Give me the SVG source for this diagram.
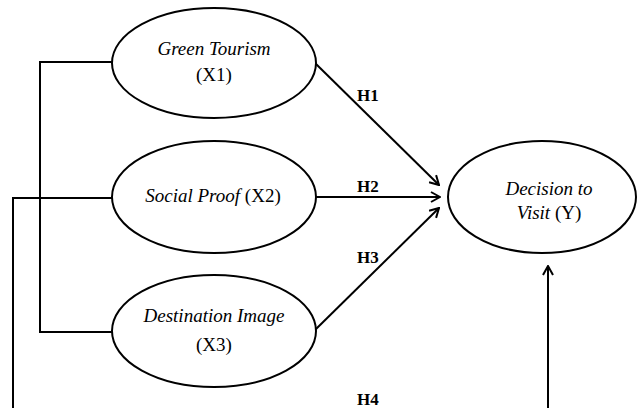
<svg xmlns="http://www.w3.org/2000/svg" width="637" height="408" viewBox="0 0 637 408">
<style>
.node ellipse{fill:#fff;stroke:#000;stroke-width:2}
.t{font-family:"Liberation Serif","Times New Roman",serif;font-size:19px;fill:#000;text-anchor:middle}
.i{font-style:italic}
.h{font-family:"Liberation Serif","Times New Roman",serif;font-size:17px;font-weight:bold;fill:#000}
#connectors path,#connectors line{fill:none;stroke:#000;stroke-width:2}
</style>
<defs>
<marker id="arr" viewBox="0 0 12 12" refX="11" refY="6" markerWidth="12" markerHeight="12" markerUnits="userSpaceOnUse" orient="auto">
<path d="M2,1 L11,6 L2,11" fill="none" stroke="#000" stroke-width="2"/>
</marker>
</defs>
<rect width="637" height="408" fill="#fff"/>
<g id="connectors">
<path d="M112,62 H40 V332 H112"/>
<path d="M112,198 H13 V408"/>
<line x1="315" y1="63" x2="439" y2="185" marker-end="url(#arr)"/>
<line x1="316" y1="197" x2="440" y2="197" marker-end="url(#arr)"/>
<line x1="315" y1="330" x2="439" y2="208" marker-end="url(#arr)"/>
<line x1="548" y1="408" x2="548" y2="266" marker-end="url(#arr)"/>
</g>
<g id="labels">
<text class="h" x="357" y="101">H1</text>
<text class="h" x="357" y="192">H2</text>
<text class="h" x="357" y="263">H3</text>
<text class="h" x="357" y="405">H4</text>
</g>
<g id="x1" class="node">
<ellipse cx="214" cy="63" rx="102" ry="55"/>
<text class="t i" x="214" y="55">Green Tourism</text>
<text class="t" x="214" y="81">(X1)</text>
</g>
<g id="x2" class="node">
<ellipse cx="214" cy="197" rx="102" ry="56"/>
<text class="t" x="213" y="202"><tspan class="i">Social Proof</tspan> (X2)</text>
</g>
<g id="x3" class="node">
<ellipse cx="214" cy="331" rx="102" ry="56"/>
<text class="t i" x="214" y="322">Destination Image</text>
<text class="t" x="214" y="351">(X3)</text>
</g>
<g id="y" class="node">
<ellipse cx="542" cy="197" rx="94" ry="56"/>
<text class="t i" x="549" y="195">Decision to</text>
<text class="t" x="549" y="219"><tspan class="i">Visit</tspan> (Y)</text>
</g>
</svg>
